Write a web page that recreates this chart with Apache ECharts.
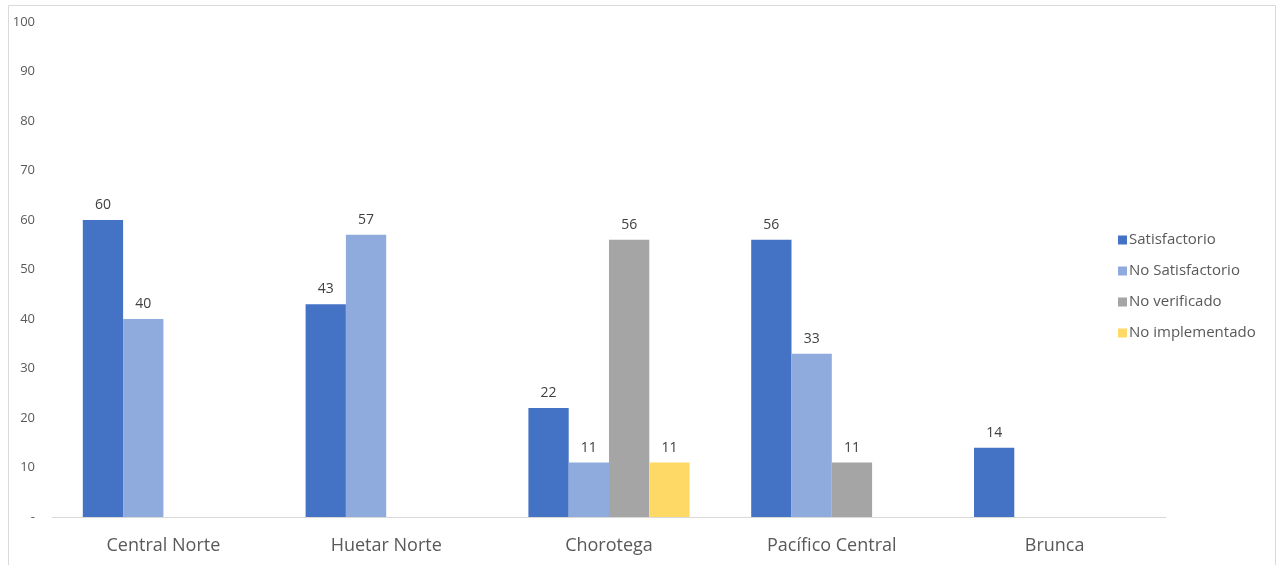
<!DOCTYPE html>
<html>
<head>
<meta charset="utf-8">
<script src="https://cdn.jsdelivr.net/npm/echarts@6/dist/echarts.min.js"></script>
<style>
  html, body { margin: 0; padding: 0; background: #fff; }
  #chart { width: 1280px; height: 565px; }
</style>
</head>
<body>
<div id="chart"></div>
<script>
// Regions and assessment results (%)
const categories = ['Central Norte', 'Huetar Norte', 'Chorotega', 'Pacífico Central', 'Brunca'];
const seriesNames = ['Satisfactorio', 'No Satisfactorio', 'No verificado', 'No implementado'];
const satisfactorio = [60, 43, 22, 56, 14];
const noSatisfactorio = [40, 57, 11, 33, null];
const noVerificado = [null, null, 56, 11, null];
const noImplementado = [null, null, 11, null, null];
const yTicks = [0, 10, 20, 30, 40, 50, 60, 70, 80, 90, 100];

const colors = ['#4472C4', '#8FAADC', '#A5A5A5', '#FFD966'];
const values = [satisfactorio, noSatisfactorio, noVerificado, noImplementado];
const font = '"Open Sans", "Noto Sans", sans-serif';

const chart = echarts.init(document.getElementById('chart'), null, { renderer: 'canvas' });

chart.setOption({
  backgroundColor: '#ffffff',
  animation: false,
  graphic: [{
    type: 'rect',
    z: -10,
    shape: { x: 8.5, y: 5.5, width: 1267, height: 620 },
    style: { fill: 'none', stroke: '#d9d9d9', lineWidth: 1 }
  }],
  grid: { left: 52, right: 114, top: 22, bottom: 48 },
  legend: {
    orient: 'vertical',
    left: 1113,
    top: 225,
    itemWidth: 9,
    itemHeight: 9,
    itemGap: 11,
    icon: 'rect',
    data: seriesNames,
    textStyle: { color: '#595959', fontSize: 15, lineHeight: 20, fontFamily: font, padding: [0, 0, 0, -3] }
  },
  xAxis: {
    type: 'category',
    data: categories,
    axisTick: { show: false },
    axisLine: { lineStyle: { color: '#d9d9d9', width: 1 } },
    axisLabel: { color: '#595959', fontSize: 18, fontFamily: font, margin: 20 }
  },
  yAxis: {
    type: 'value',
    min: yTicks[0],
    max: yTicks[yTicks.length - 1],
    interval: 10,
    splitLine: { show: false },
    axisLine: { show: false },
    axisTick: { show: false },
    axisLabel: {
      color: '#595959',
      fontSize: 13,
      fontFamily: font,
      margin: 17,
      formatter: v => (v === 0 ? '-' : String(v))
    }
  },
  series: seriesNames.map((name, i) => ({
    name: name,
    type: 'bar',
    data: values[i],
    barWidth: 40.3,
    barGap: '0%',
    itemStyle: { color: colors[i] },
    label: {
      show: true,
      position: 'top',
      distance: 8,
      color: '#404040',
      fontSize: 14,
      fontFamily: font
    }
  }))
});
</script>
</body>
</html>
